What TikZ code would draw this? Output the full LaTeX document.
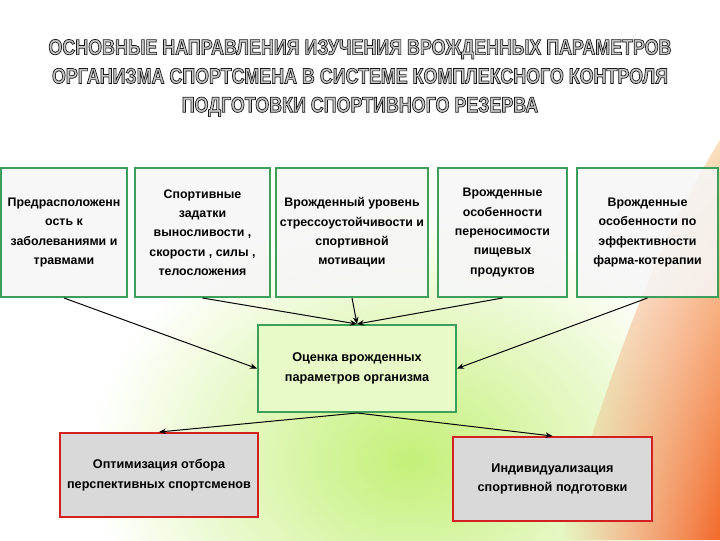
\documentclass[tikz,border=0pt]{standalone}
\usepackage{fontspec}
\setmainfont{Liberation Sans}
\newfontfamily\titlefont{Liberation Sans}[FakeStretch=0.82]
\usetikzlibrary{arrows.meta,shadows,fadings}

\definecolor{boxgreen}{RGB}{60,160,90}
\definecolor{boxred}{RGB}{212,32,32}
\definecolor{glowgreen}{RGB}{196,240,120}
\definecolor{paleorange}{RGB}{250,225,190}
\definecolor{deeporange}{RGB}{242,105,40}

% grey letters with a dark outline
\newcommand{\outlineon}{\special{pdf:literal direct 2 Tr 0.5 w 0.1 0.1 0.1 RG}}
\newcommand{\outlineoff}{\special{pdf:literal direct 0 Tr}}

\begin{document}
\begin{tikzpicture}[x=0.025cm, y=-0.025cm, >={Stealth[length=5pt,width=4pt]}]

% Styles
\tikzset{
  topbox/.style={draw=boxgreen, line width=1.4pt, fill=white, fill opacity=0.8,
    text opacity=1, minimum height=3.225cm, align=center, inner sep=2pt,
    font=\fontsize{8.8}{13.7}\selectfont\bfseries,
    drop shadow={shadow xshift=0.8pt, shadow yshift=-0.8pt, opacity=0.3}},
  midbox/.style={draw=boxgreen, line width=1.4pt, fill={rgb,255:red,232;green,250;blue,200},
    minimum width=4.95cm, minimum height=2.175cm, align=center,
    font=\fontsize{9}{14}\selectfont\bfseries,
    drop shadow={shadow xshift=0.8pt, shadow yshift=-0.8pt, opacity=0.3}},
  resultbox/.style={draw=boxred, line width=1.4pt, fill=black!15,
    minimum width=4.95cm, minimum height=2.1cm, align=center,
    font=\fontsize{9}{14}\selectfont\bfseries,
    drop shadow={shadow xshift=0.8pt, shadow yshift=-0.8pt, opacity=0.3}},
  link/.style={->, line width=0.7pt, black},
  titletext/.style={align=center, text=black!22,
    font=\titlefont\fontsize{15.5}{20.5}\selectfont\bfseries,
    execute at end node=\outlineoff}
}

\useasboundingbox (0,0) rectangle (720,540);

% Background
\fill[white] (0,0) rectangle (720,540);
\shade[inner color=glowgreen, outer color=white] (410,460) ellipse (320 and 250);
\shade[top color=paleorange, bottom color=deeporange, path fading=west]
  (720,140) .. controls (645,260) and (595,420) .. (560,540) -- (720,540) -- cycle;

% Title
\node[titletext] (title) at (360,78) {\outlineon ОСНОВНЫЕ НАПРАВЛЕНИЯ ИЗУЧЕНИЯ ВРОЖДЕННЫХ ПАРАМЕТРОВ\\
  \outlineon ОРГАНИЗМА СПОРТСМЕНА В СИСТЕМЕ КОМПЛЕКСНОГО КОНТРОЛЯ\\
  \outlineon ПОДГОТОВКИ СПОРТИВНОГО РЕЗЕРВА};

% Top row
\node[topbox, minimum width=3.15cm]  (pred)  at (64,232.5)    {Предрасположенн\\ость к\\заболеваниями и\\травмами};
\node[topbox, minimum width=3.375cm] (zad)   at (202.5,232.5) {Спортивные\\задатки\\выносливости ,\\скорости , силы ,\\телосложения};
\node[topbox, minimum width=3.8cm]   (stress) at (352,232.5)  {Врожденный уровень\\стрессоустойчивости и\\спортивной\\мотивации};
\node[topbox, minimum width=3.225cm] (pish)  at (502.5,232.5) {Врожденные\\особенности\\переносимости\\пищевых\\продуктов};
\node[topbox, minimum width=3.525cm] (farm)  at (647.5,232.5) {Врожденные\\особенности по\\эффективности\\фарма-котерапии};

% Assessment
\node[midbox] (ocenka) at (357,368.5) {Оценка врожденных\\параметров организма};

% Results
\node[resultbox] (otbor) at (159,475) {Оптимизация отбора\\перспективных спортсменов};
\node[resultbox, minimum width=4.975cm] (indiv) at (552.5,479) {Индивидуализация\\спортивной подготовки};

% Arrows
\draw[link] (pred.south) -- (ocenka.west);
\draw[link] (zad.south) -- (ocenka.north);
\draw[link] (stress.south) -- (ocenka.north);
\draw[link] (pish.south) -- (ocenka.north);
\draw[link] (farm.south) -- (ocenka.east);
\draw[link] (ocenka.south) -- (otbor.north);
\draw[link] (ocenka.south) -- (indiv.north);

\end{tikzpicture}
\end{document}
